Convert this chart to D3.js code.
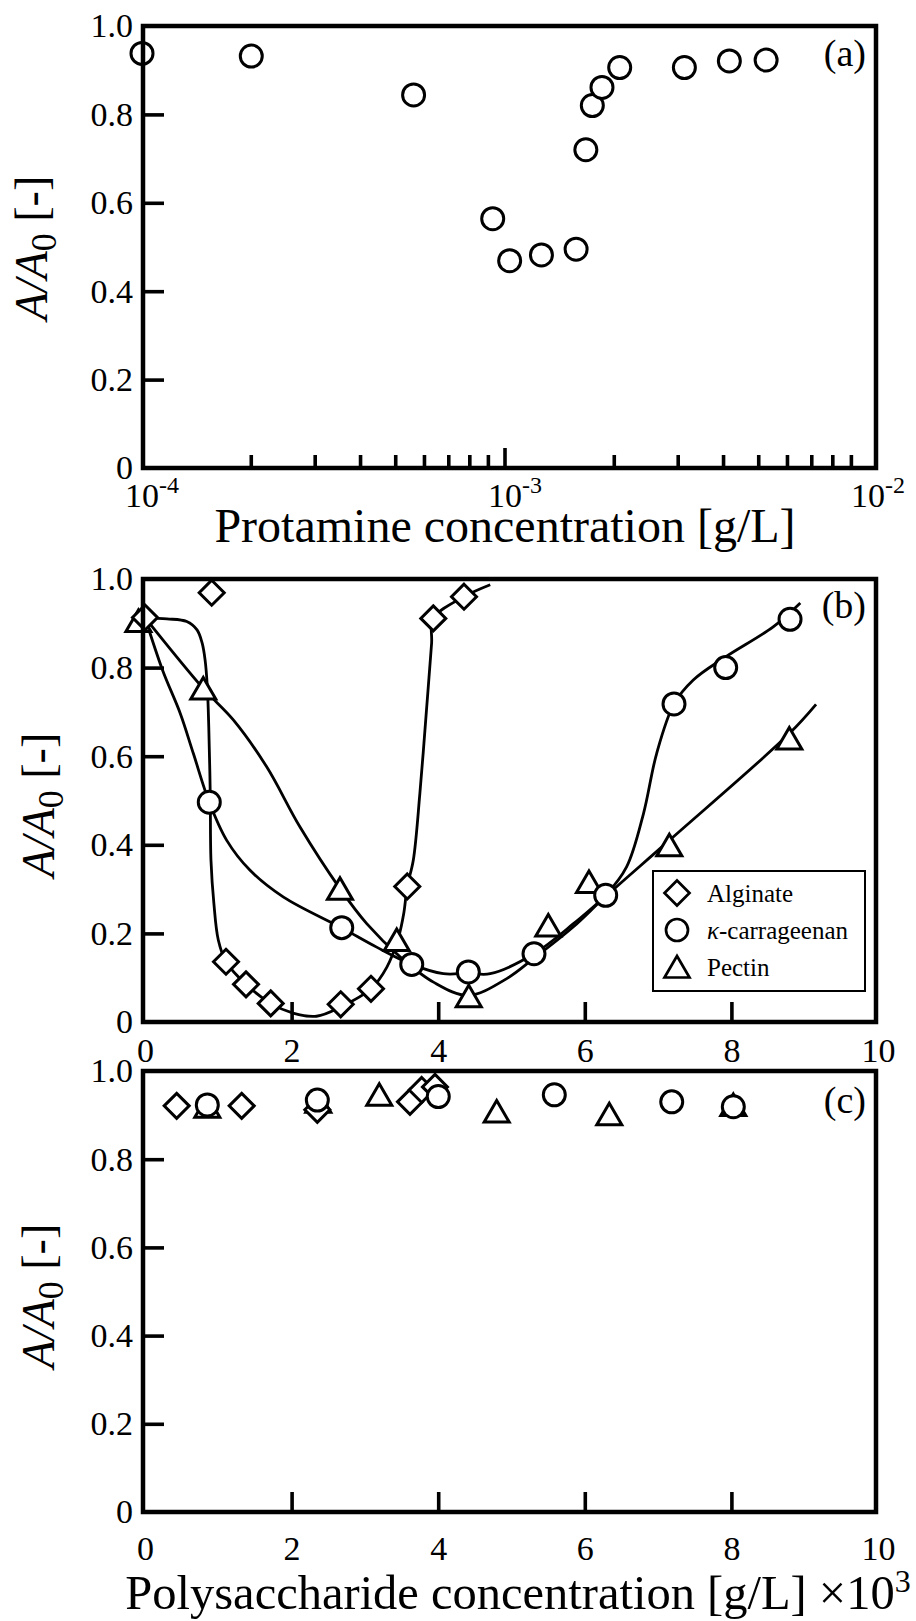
<!DOCTYPE html>
<html>
<head>
<meta charset="utf-8">
<script src="https://cdn.jsdelivr.net/npm/d3@7"></script>
<style>
  html, body { margin: 0; padding: 0; background: #fff; }
  svg { display: block; }
  svg text { font-family: 'Liberation Serif', 'Times New Roman', serif; fill: #000; }
</style>
</head>
<body>
<div id="chart"></div>
<script>
// (a) protamine alone, log concentration axis
const protamineConc  = [1.0e-4, 2.0e-4, 5.6e-4, 9.25e-4, 1.03e-3, 1.26e-3, 1.57e-3, 1.67e-3, 1.74e-3, 1.85e-3, 2.07e-3, 3.12e-3, 4.15e-3, 5.24e-3];
const protamineRatio = [0.938, 0.932, 0.844, 0.564, 0.469, 0.482, 0.495, 0.720, 0.820, 0.861, 0.906, 0.906, 0.921, 0.923];

// (b) polysaccharide + protamine, measured points
const alginateConcB     = [0, 0.91, 1.105, 1.378, 1.715, 2.67, 3.083, 3.578, 3.933, 4.352];
const alginateRatioB    = [0.913, 0.969, 0.136, 0.085, 0.042, 0.040, 0.075, 0.306, 0.911, 0.960];
const carrageenanConcB  = [0.877, 2.684, 3.639, 4.411, 5.307, 6.285, 7.217, 7.922, 8.80];
const carrageenanRatioB = [0.496, 0.213, 0.130, 0.113, 0.154, 0.286, 0.718, 0.800, 0.909];
const pectinConcB       = [-0.09, 0.795, 2.66, 3.434, 4.417, 5.502, 6.057, 7.153, 8.79];
const pectinRatioB      = [0.905, 0.753, 0.301, 0.185, 0.058, 0.218, 0.316, 0.399, 0.640];

// (b) hand-drawn guide curves as [conc, ratio]
const alginateCurveB = [[0, 0.913], [0.30, 0.910], [0.57, 0.904], [0.71, 0.885], [0.78, 0.855], [0.82, 0.817],
  [0.85, 0.757], [0.87, 0.666], [0.89, 0.516], [0.90, 0.365], [0.94, 0.267], [1.00, 0.185], [1.105, 0.136],
  [1.378, 0.085], [1.715, 0.042], [2.02, 0.020], [2.34, 0.013], [2.67, 0.034], [3.083, 0.075], [3.30, 0.124],
  [3.46, 0.192], [3.53, 0.245], [3.578, 0.306], [3.66, 0.365], [3.75, 0.516], [3.84, 0.704], [3.91, 0.855],
  [3.933, 0.911], [4.352, 0.960], [4.71, 0.987]];
const carrageenanCurveB = [[0, 0.913], [0.24, 0.794], [0.48, 0.697], [0.66, 0.606], [0.877, 0.496], [1.115, 0.41],
  [1.43, 0.343], [1.89, 0.282], [2.684, 0.2125], [3.16, 0.169], [3.639, 0.130], [4.07, 0.109], [4.41, 0.110],
  [4.71, 0.109], [5.307, 0.154], [5.845, 0.222], [6.285, 0.286], [6.57, 0.35], [6.80, 0.47], [6.98, 0.606],
  [7.217, 0.718], [7.48, 0.772], [7.92, 0.824], [8.57, 0.892], [8.94, 0.946]];
const pectinCurveB = [[0, 0.913], [0.795, 0.753], [1.205, 0.682], [1.66, 0.576], [2.115, 0.440], [2.66, 0.301],
  [3.025, 0.222], [3.48, 0.147], [3.935, 0.090], [4.41, 0.060], [4.935, 0.098], [5.30, 0.143], [5.845, 0.215],
  [6.275, 0.282], [7.153, 0.41], [8.79, 0.651], [9.155, 0.717]];

// (c) polysaccharide alone
const alginateConcC     = [0.432, 1.319, 2.351, 3.615, 3.775, 3.956];
const alginateRatioC    = [0.921, 0.921, 0.912, 0.930, 0.957, 0.964];
const carrageenanConcC  = [0.85, 2.351, 4.001, 5.584, 7.186, 8.026];
const carrageenanRatioC = [0.923, 0.934, 0.942, 0.946, 0.930, 0.919];
const pectinConcC       = [0.85, 2.364, 3.196, 4.798, 6.334, 8.026];
const pectinRatioC      = [0.919, 0.930, 0.946, 0.908, 0.902, 0.923];

const ratioTicks = [0, 0.2, 0.4, 0.6, 0.8, 1.0];
const polyTicks = [0, 2, 4, 6, 8, 10];
const logLabelTicks = [1e-4, 1e-3, 1e-2];
const legendNames = ["Alginate", "carrageenan", "Pectin"];
const legendKinds = ["diamond", "circle", "triangle"];

const FONT = "'Liberation Serif', 'Times New Roman', serif";
const width = 916, height = 1621;
const frameLeft = 143, frameRight = 876;

const panels = {
    a: { top: 26, bottom: 468 },
    b: { top: 579, bottom: 1022 },
    c: { top: 1071, bottom: 1512 }
};

const xLog = d3.scaleLog().domain([1e-4, 1e-2]).range([142, 868]);
const xLin = d3.scaleLinear().domain([0, 10]).range([145, 878]);
const yA = d3.scaleLinear().domain([0, 1]).range([panels.a.bottom, panels.a.top]);
const yB = d3.scaleLinear().domain([0, 1]).range([panels.b.bottom, panels.b.top]);
const yC = d3.scaleLinear().domain([0, 1]).range([panels.c.bottom, panels.c.top]);

const svg = d3.select("#chart").append("svg")
    .attr("width", width)
    .attr("height", height)
    .style("font-family", FONT);

/* marker outlines, centred on the data point */
const markerPath = {
    circle: (() => { const p = d3.path(); p.arc(0, 0, 11, 0, 2 * Math.PI); p.closePath(); return p.toString(); })(),
    diamond: "M0,-12.5L12.5,0L0,12.5L-12.5,0Z",
    triangle: "M0,-11L12.5,10.5L-12.5,10.5Z"
};

function fmtRatio(d) {
    return d === 0 ? "0" : d.toFixed(1);
}

function yAxis(y) {
    const g = svg.append("g")
        .attr("transform", `translate(${frameLeft},0)`)
        .call(d3.axisLeft(y).tickValues(ratioTicks).tickSize(-21).tickPadding(10).tickFormat(fmtRatio));
    g.select(".domain").remove();
    g.attr("font-size", 34).attr("font-family", null);
    g.selectAll("line").attr("stroke-width", 3.6)
        .filter(d => d === 0 || d === 1).remove();
}

function yTitle(cx, cy) {
    const t = svg.append("text")
        .attr("transform", `translate(${cx},${cy}) rotate(-90)`)
        .attr("text-anchor", "middle")
        .attr("font-size", 46);
    t.append("tspan").attr("font-style", "italic").text("A/A");
    t.append("tspan").attr("font-size", 36).attr("dy", "0.25em").text("0");
    t.append("tspan").attr("dy", "-0.2em").text(" [-]");
}

function linearXAxis(bottom, labelOffset) {
    const g = svg.append("g")
        .attr("transform", `translate(0,${bottom})`)
        .call(d3.axisBottom(xLin).tickValues(polyTicks).tickSize(-20).tickFormat(d3.format("d")));
    g.select(".domain").remove();
    g.attr("font-size", 34).attr("font-family", null);
    g.selectAll("line").attr("stroke-width", 3.6)
        .filter(d => d === 0 || d === 10).remove();
    g.selectAll("text").attr("y", labelOffset).attr("dy", null);
}

function frame(p) {
    svg.append("rect")
        .attr("x", frameLeft).attr("y", p.top)
        .attr("width", frameRight - frameLeft).attr("height", p.bottom - p.top)
        .attr("fill", "none").attr("stroke", "#000").attr("stroke-width", 4.5);
}

function panelLabel(letter, baseline) {
    svg.append("text")
        .attr("x", 866).attr("y", baseline)
        .attr("text-anchor", "end")
        .attr("font-size", 38)
        .text(letter);
}

function markers(xs, ys, kind, x, y) {
    svg.append("g")
        .selectAll("path")
        .data(d3.zip(xs, ys))
        .join("path")
        .attr("d", markerPath[kind])
        .attr("transform", d => `translate(${x(d[0])},${y(d[1])})`)
        .attr("fill", "#fff")
        .attr("stroke", "#000")
        .attr("stroke-width", 3);
}

function fitCurve(points, x, y) {
    svg.append("path")
        .datum(points)
        .attr("fill", "none")
        .attr("stroke", "#000")
        .attr("stroke-width", 2.8)
        .attr("d", d3.line().x(d => x(d[0])).y(d => y(d[1])).curve(d3.curveCatmullRom.alpha(0.5)));
}

/* ---------- (a) ---------- */
yAxis(yA);
yTitle(47, 248);

const logTicks = xLog.ticks().filter(d => d > 1e-4 * 1.01 && d < 1e-2 * 0.99);
svg.append("g")
    .selectAll("line")
    .data(logTicks)
    .join("line")
    .attr("x1", d => xLog(d)).attr("x2", d => xLog(d))
    .attr("y1", panels.a.bottom)
    .attr("y2", d => panels.a.bottom - (Math.abs(Math.log10(d) % 1) < 1e-6 ? 20 : 13))
    .attr("stroke", "#000")
    .attr("stroke-width", 3.6);

svg.append("g")
    .selectAll("text")
    .data(logLabelTicks)
    .join("text")
    .attr("x", d => xLog(d) - 17)
    .attr("y", panels.a.bottom + 39)
    .attr("font-size", 34)
    .each(function(d) {
        const t = d3.select(this);
        t.append("tspan").text("10");
        t.append("tspan").attr("font-size", 24).attr("dy", -14).text(Math.round(Math.log10(d)).toString());
    });

svg.append("text")
    .attr("x", 505).attr("y", 542)
    .attr("text-anchor", "middle")
    .attr("font-size", 48)
    .text("Protamine concentration [g/L]");

markers(protamineConc, protamineRatio, "circle", xLog, yA);
frame(panels.a);
panelLabel("(a)", 66);

/* ---------- (b) ---------- */
yAxis(yB);
yTitle(54, 805);
linearXAxis(panels.b.bottom, 40);

fitCurve(alginateCurveB, xLin, yB);
fitCurve(carrageenanCurveB, xLin, yB);
fitCurve(pectinCurveB, xLin, yB);

markers(pectinConcB, pectinRatioB, "triangle", xLin, yB);
markers(alginateConcB, alginateRatioB, "diamond", xLin, yB);
markers(carrageenanConcB, carrageenanRatioB, "circle", xLin, yB);
frame(panels.b);
panelLabel("(b)", 618);

// legend
const legend = svg.append("g").attr("transform", "translate(653,871)");
legend.append("rect")
    .attr("width", 212).attr("height", 120)
    .attr("fill", "#fff").attr("stroke", "#000").attr("stroke-width", 2);
const rows = legend.selectAll("g.row")
    .data(legendNames)
    .join("g")
    .attr("class", "row")
    .attr("transform", (d, i) => `translate(24,${22 + i * 37})`);
rows.append("path")
    .attr("d", (d, i) => markerPath[legendKinds[i]])
    .attr("fill", "#fff").attr("stroke", "#000").attr("stroke-width", 2.7);
rows.append("text")
    .attr("x", 30).attr("dy", "0.35em")
    .attr("font-size", 25)
    .each(function(d, i) {
        const t = d3.select(this);
        if (i === 1) {
            t.append("tspan").attr("font-style", "italic").text("\u03BA");
            t.append("tspan").text("-" + d);
        } else {
            t.text(d);
        }
    });

/* ---------- (c) ---------- */
yAxis(yC);
yTitle(54, 1296);
linearXAxis(panels.c.bottom, 48);

markers(pectinConcC, pectinRatioC, "triangle", xLin, yC);
markers(alginateConcC, alginateRatioC, "diamond", xLin, yC);
markers(carrageenanConcC, carrageenanRatioC, "circle", xLin, yC);
frame(panels.c);
panelLabel("(c)", 1113);

const titleC = svg.append("text")
    .attr("x", 518).attr("y", 1609)
    .attr("text-anchor", "middle")
    .attr("font-size", 48.5);
titleC.append("tspan").text("Polysaccharide concentration [g/L] \u00D710");
titleC.append("tspan").attr("font-size", 32).attr("dy", -17).text("3");
</script>
</body>
</html>
